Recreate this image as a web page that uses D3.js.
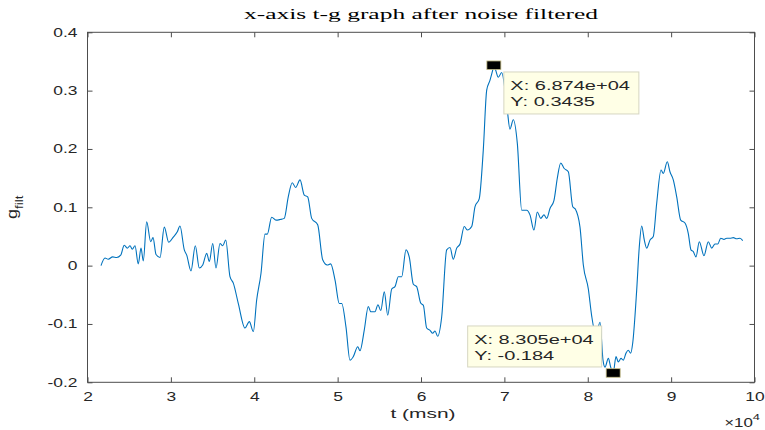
<!DOCTYPE html>
<html>
<head>
<meta charset="utf-8">
<script src="https://cdn.jsdelivr.net/npm/d3@7"></script>
<style>
  body { margin: 0; background: #fff; }
  svg { display: block; }
  .tick text { font-family: 'Liberation Sans', Arial, sans-serif; font-size: 12px; fill: #262626; }
  .tick line { stroke: #4d4d4d; }
  .domain { stroke: none; }
</style>
</head>
<body>
<svg id="chart" width="765" height="430"></svg>
<script>
// t in msn, g filtered
const T = [
  21620, 22100, 22490, 23020, 23500, 23980, 24410, 24770, 25100, 25370,
  25700, 26090, 26420, 26690, 27100, 27580, 27860, 28220, 28700, 29210,
  29740, 30290, 30770, 31090, 31610, 31900, 32410, 32930, 33410, 33820,
  34300, 34610, 35020, 35410, 35890, 36220, 36580, 37090, 37490, 38090,
  38890, 39410, 39890, 40290, 40810, 41290, 41570, 42090, 42610, 43090,
  43600, 44080, 44560, 44970, 45490, 46000, 46410, 46890, 47610, 48210,
  48760, 49170, 49690, 50200, 50490, 51000, 51480, 51880, 52410, 52680,
  53200, 53680, 53970, 54480, 54840, 55170, 55600, 56010, 56490, 56880,
  57280, 57690, 58200, 58600, 59080, 59480, 59960, 60280, 60680, 61080,
  61400, 61680, 62000, 62480, 63080, 63480, 63870, 64280, 64680, 65190,
  65550, 66080, 66480, 66990, 67470, 67880, 68280, 68600, 68740, 68960,
  69270, 69680, 70080, 70350, 70670, 71070, 71550, 72080, 72680, 73070,
  73550, 73950, 74360, 74750, 75080, 75470, 75950, 76350, 76760, 77150,
  77670, 78200, 78510, 79070, 79470, 80070, 80470, 80990, 81470, 81830,
  82070, 82470, 82750, 83050, 83390, 83660, 83990, 84260, 84590, 84860,
  85150, 85390, 85870, 86180, 86470, 86780, 87070, 87470, 87860, 88270,
  88790, 89060, 89540, 89860, 90260, 90670, 91150, 91660, 92060, 92380,
  92660, 92980, 93380, 93940, 94460, 94870, 95260, 95590, 95950, 96340,
  96670, 97060, 97460, 97860, 98260, 98590
];
const G = [
  0.000, 0.013, 0.011, 0.015, 0.014, 0.018, 0.035, 0.030, 0.034, 0.028,
  0.034, 0.003, 0.030, 0.008, 0.075, 0.041, 0.048, 0.019, 0.014, 0.066,
  0.040, 0.049, 0.058, 0.068, 0.027, 0.018, -0.009, 0.034, -0.004, 0.001,
  0.021, 0.007, 0.038, -0.004, 0.038, 0.034, 0.044, -0.019, -0.030, -0.065,
  -0.107, -0.096, -0.113, -0.059, -0.013, 0.054, 0.054, 0.083, 0.078, 0.079,
  0.081, 0.118, 0.142, 0.134, 0.147, 0.121, 0.118, 0.081, 0.070, 0.010,
  0.001, 0.003, -0.025, -0.065, -0.065, -0.105, -0.162, -0.156, -0.139, -0.146,
  -0.110, -0.070, -0.079, -0.079, -0.067, -0.077, -0.045, -0.085, -0.040, -0.036,
  -0.019, -0.019, 0.027, 0.014, -0.032, -0.036, -0.064, -0.068, -0.107, -0.111,
  -0.116, -0.112, -0.121, -0.088, 0.027, 0.031, 0.011, 0.030, 0.037, 0.067,
  0.061, 0.067, 0.101, 0.115, 0.198, 0.301, 0.318, 0.335, 0.3435, 0.335,
  0.323, 0.331, 0.301, 0.267, 0.234, 0.250, 0.210, 0.095, 0.095, 0.087,
  0.061, 0.092, 0.081, 0.087, 0.081, 0.098, 0.112, 0.150, 0.176, 0.167,
  0.161, 0.101, 0.097, 0.066, 0.001, -0.040, -0.086, -0.119, -0.097, -0.162,
  -0.174, -0.159, -0.174, -0.184, -0.156, -0.165, -0.159, -0.162, -0.150, -0.145,
  -0.150, -0.133, -0.042, 0.032, 0.068, 0.044, 0.030, 0.044, 0.050, 0.107,
  0.164, 0.158, 0.178, 0.161, 0.147, 0.118, 0.078, 0.073, 0.055, 0.027,
  0.024, 0.015, 0.041, 0.017, 0.041, 0.030, 0.037, 0.037, 0.047, 0.045,
  0.047, 0.047, 0.048, 0.046, 0.047, 0.043
];
const X_TICKS = [20000, 30000, 40000, 50000, 60000, 70000, 80000, 90000, 100000];
const Y_TICKS = [-0.2, -0.1, 0, 0.1, 0.2, 0.3, 0.4];

// data tips
const TIP_T = [68740, 83050];
const TIP_G = [0.3435, -0.184];
const TIP_X = ['X: 6.874e+04', 'X: 8.305e+04'];
const TIP_Y = ['Y: 0.3435', 'Y: -0.184'];

const TITLE = 'x-axis t-g graph after noise filtered';

const M = { left: 87.5, right: 754.5, top: 32.3, bottom: 382.3 };
const FONT = "'Liberation Sans', Arial, sans-serif";

const $svg = d3.select('#chart');

const x = d3.scaleLinear().domain([20000, 100000]).range([M.left, M.right]);
const y = d3.scaleLinear().domain([-0.2, 0.4]).range([M.bottom, M.top]);

// the figure's text is drawn wide, so stretch along the text direction
function stretch(sel, k) {
  sel.each(function () {
    const w = this.getComputedTextLength();
    d3.select(this).attr('textLength', w * k).attr('lengthAdjust', 'spacingAndGlyphs');
  });
}

// axes, ticks pointing inwards on all four sides
const $xb = $svg.append('g')
  .attr('transform', `translate(0,${M.bottom})`)
  .call(d3.axisBottom(x).tickValues(X_TICKS).tickFormat(d => d / 1e4)
    .tickSizeInner(-5).tickSizeOuter(0).tickPadding(10));
$svg.append('g')
  .attr('transform', `translate(0,${M.top})`)
  .call(d3.axisTop(x).tickValues(X_TICKS).tickFormat('')
    .tickSizeInner(-5).tickSizeOuter(0));
const $yl = $svg.append('g')
  .attr('transform', `translate(${M.left},0)`)
  .call(d3.axisLeft(y).tickValues(Y_TICKS).tickFormat(d => String(+d.toFixed(1)))
    .tickSizeInner(-5).tickSizeOuter(0).tickPadding(10));
$svg.append('g')
  .attr('transform', `translate(${M.right},0)`)
  .call(d3.axisRight(y).tickValues(Y_TICKS).tickFormat('')
    .tickSizeInner(-5).tickSizeOuter(0));

stretch($xb.selectAll('.tick text'), 1.45);
stretch($yl.selectAll('.tick text'), 1.45);

$svg.append('rect')
  .attr('x', M.left).attr('y', M.top)
  .attr('width', M.right - M.left).attr('height', M.bottom - M.top)
  .attr('fill', 'none').attr('stroke', '#4d4d4d').attr('stroke-width', 1);

// series
const line = d3.line()
  .x((d, i) => x(T[i]))
  .y(d => y(d))
  .curve(d3.curveMonotoneX);

$svg.append('path')
  .datum(G)
  .attr('d', line)
  .attr('fill', 'none')
  .attr('stroke', '#0072bd')
  .attr('stroke-width', 1.1);

// data tips
const tipBox = [
  { dx: 10, dy: 6.7, w: 135, h: 42 },
  { dx: -145.5, dy: -47, w: 134, h: 41 }
];
TIP_T.forEach((t, i) => {
  const px = x(t);
  const py = y(TIP_G[i]);
  const b = tipBox[i];
  const $g = $svg.append('g');
  $g.append('rect')
    .attr('x', px + b.dx).attr('y', py + b.dy)
    .attr('width', b.w).attr('height', b.h)
    .attr('fill', '#ffffe6').attr('stroke', '#d6d6c2').attr('stroke-width', 1);
  const $t = $g.append('g')
    .attr('font-family', FONT).attr('font-size', 12.5).attr('fill', '#262626');
  const $l1 = $t.append('text')
    .attr('x', px + b.dx + 6.5).attr('y', py + b.dy + 18).text(TIP_X[i]);
  const $l2 = $t.append('text')
    .attr('x', px + b.dx + 6.5).attr('y', py + b.dy + 34.5).text(TIP_Y[i]);
  stretch($l1, 1.6);
  stretch($l2, 1.6);
  $svg.append('rect')
    .attr('x', px - 7).attr('y', py - 4.3)
    .attr('width', 14).attr('height', 8.6)
    .attr('fill', '#000').attr('stroke', '#c9c08a').attr('stroke-width', 0.8);
});

// title
$svg.append('text')
  .attr('x', (M.left + M.right) / 2).attr('y', 18.5)
  .attr('text-anchor', 'middle')
  .attr('font-family', "'Liberation Serif', 'Times New Roman', serif")
  .attr('font-size', 14.5).attr('fill', '#000')
  .attr('textLength', 354).attr('lengthAdjust', 'spacingAndGlyphs')
  .text(TITLE);

// x label
const $xl = $svg.append('text')
  .attr('x', (M.left + M.right) / 2 + 2).attr('y', 418)
  .attr('text-anchor', 'middle')
  .attr('font-family', FONT).attr('font-size', 13.5).attr('fill', '#262626')
  .text('t (msn)');
stretch($xl, 1.55);

// exponent
const $ex = $svg.append('text')
  .attr('x', 760).attr('y', 427)
  .attr('text-anchor', 'end')
  .attr('font-family', FONT).attr('fill', '#262626');
$ex.append('tspan').attr('font-size', 12).text('\u00d7');
$ex.append('tspan').attr('font-size', 12.5).text('10');
$ex.append('tspan').attr('font-size', 9.5).attr('dy', -7).text('4');
stretch($ex, 1.35);

// y label
const $ylab = $svg.append('text')
  .attr('transform', `translate(17,${(M.top + M.bottom) / 2}) rotate(-90)`)
  .attr('text-anchor', 'middle')
  .attr('font-family', FONT).attr('fill', '#262626');
$ylab.append('tspan').attr('font-size', 15).text('g');
$ylab.append('tspan').attr('font-size', 11).attr('dy', 6).text('filt');
stretch($ylab, 1.2);
</script>
</body>
</html>
